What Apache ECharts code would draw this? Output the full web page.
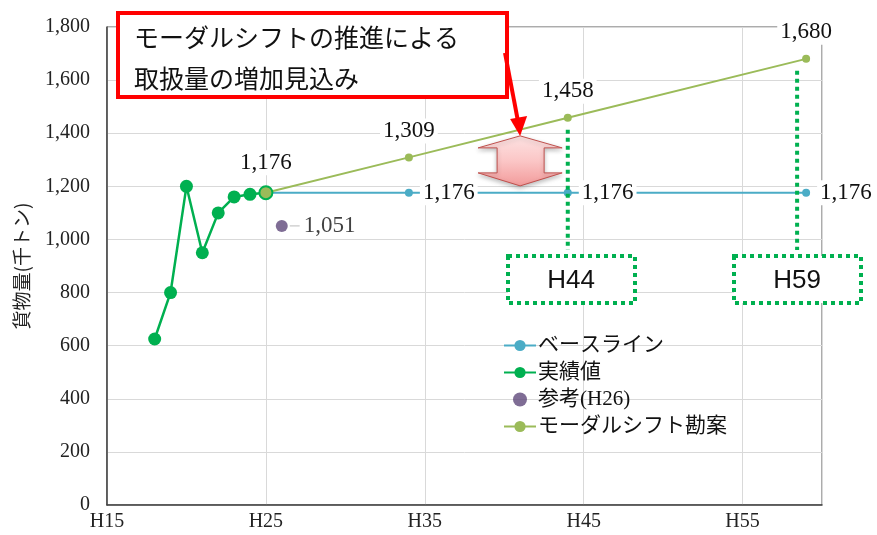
<!DOCTYPE html>
<html>
<head>
<meta charset="utf-8">
<script src="https://cdn.jsdelivr.net/npm/echarts@6/dist/echarts.min.js"></script>
<style>
  html, body { margin: 0; padding: 0; background: #fff; }
  #chart { width: 877px; height: 535px; }
</style>
</head>
<body>
<div id="chart"></div>
<script>
// 実績値
const actualYears = [18, 19, 20, 21, 22, 23, 24, 25]
const actualValues = [625, 800, 1200, 950, 1100, 1160, 1170, 1176]
// 将来推計 (H25, H34, H44, H59)
const forecastYears = [25, 34, 44, 59]
const baselineValues = [1176, 1176, 1176, 1176]
const modalValues = [1176, 1309, 1458, 1680]
// 参考(H26)
const refYears = [26]
const refValues = [1051]
// target year boxes
const targetYears = [44, 59]
const targetLabels = ['H44', 'H59']

const serif = "'Liberation Serif', 'Noto Sans CJK JP', serif"
const gothic = "'Noto Sans CJK JP', sans-serif"
const fmt = v => v.toLocaleString('en-US')

const chart = echarts.init(document.getElementById('chart'))

const labelBase = {
  fontFamily: serif,
  fontSize: 23,
  color: '#111',
  backgroundColor: '#fff',
  padding: [1, 3],
  formatter: p => fmt(p.value[1])
}

const option = {
  animation: false,
  backgroundColor: '#fff',
  grid: {
    left: 107, right: 55, top: 27, bottom: 30,
    outerBoundsMode: 'none',
    containLabel: false,
    show: true, borderColor: '#595959', borderWidth: 1
  },
  legend: {
    orient: 'vertical',
    left: 498,
    top: 330,
    itemWidth: 32,
    itemHeight: 14,
    itemGap: 6,
    textStyle: { fontFamily: serif, fontSize: 21, color: '#111', padding: [0, 0, 0, -3] }
  },
  xAxis: {
    type: 'value',
    min: 15,
    max: 60,
    interval: 10,
    axisLine: { lineStyle: { color: '#404040', width: 1.5 } },
    axisTick: { show: false },
    axisLabel: {
      formatter: v => (v === 60 ? '' : 'H' + v),
      color: '#222',
      fontFamily: serif,
      fontSize: 20,
      margin: 7
    },
    splitLine: { show: true, lineStyle: { color: '#d9d9d9' } }
  },
  yAxis: {
    type: 'value',
    min: 0,
    max: 1800,
    interval: 200,
    name: '貨物量(千トン)',
    nameLocation: 'middle',
    nameRotate: 90,
    nameGap: 76,
    nameTextStyle: { fontFamily: gothic, fontSize: 19, color: '#222' },
    axisLine: { show: true, lineStyle: { color: '#404040', width: 1.5 } },
    axisTick: { show: false },
    axisLabel: { formatter: v => fmt(v), color: '#222', fontFamily: serif, fontSize: 20, margin: 17 },
    splitLine: { lineStyle: { color: '#d9d9d9' } }
  },
  series: [
    {
      name: 'ベースライン',
      type: 'line',
      symbol: 'circle',
      symbolSize: 8,
      itemStyle: { color: '#4bacc6' },
      lineStyle: { color: '#4bacc6', width: 2 },
      label: { show: true, position: 'right', distance: 7, ...labelBase },
      data: forecastYears.map((x, i) => ({ value: [x, baselineValues[i]], label: { show: i > 0 } }))
    },
    {
      name: '実績値',
      type: 'line',
      symbol: 'circle',
      symbolSize: 13,
      itemStyle: { color: '#00b050' },
      lineStyle: { color: '#00b050', width: 2.5 },
      data: actualYears.map((x, i) => [x, actualValues[i]])
    },
    {
      name: '参考(H26)',
      type: 'scatter',
      symbol: 'circle',
      symbolSize: 12,
      itemStyle: { color: '#5f497a' },
      label: {
        show: true,
        position: 'right',
        distance: 2,
        ...labelBase,
        backgroundColor: 'transparent',
        padding: 0,
        formatter: p => '{l|}{v|' + fmt(p.value[1]) + '}',
        rich: {
          l: { width: 10, height: 1, backgroundColor: '#aaa' },
          v: { fontFamily: serif, fontSize: 23, color: '#111', backgroundColor: '#fff', padding: [1, 3, 1, 4] }
        }
      },
      data: refYears.map((x, i) => [x, refValues[i]])
    },
    {
      name: 'モーダルシフト勘案',
      type: 'line',
      symbol: 'circle',
      symbolSize: 8,
      itemStyle: { color: '#9bbb59' },
      lineStyle: { color: '#9bbb59', width: 2 },
      label: { show: true, position: 'top', distance: 10, ...labelBase },
      data: forecastYears.map((x, i) => {
        const d = { value: [x, modalValues[i]] }
        if (i === 0) d.symbolSize = 13
        if (i === 0) d.itemStyle = { color: '#9bbb59', borderColor: '#00b050', borderWidth: 2 }
        return d
      })
    }
  ]
}

chart.setOption(option)

// annotations anchored to the data points
const green = '#00b050'
const graphics = []

graphics.push({
  type: 'rect',
  shape: { x: 118, y: 13, width: 389, height: 84 },
  style: { fill: '#fff', stroke: '#ff0000', lineWidth: 4 },
  z: 100
})
graphics.push({
  type: 'text',
  x: 134,
  y: 17,
  style: { text: 'モーダルシフトの推進による\n取扱量の増加見込み', fontFamily: gothic, fontSize: 25, lineHeight: 41, fill: '#111' },
  z: 101
})

// pink double arrow
const tip = chart.convertToPixel({ gridIndex: 0 }, [41, 1390])
const cx = tip[0]
const ty = tip[1]
graphics.push({
  type: 'polygon',
  shape: {
    points: [
      [cx, ty], [cx + 42, ty + 12], [cx + 24, ty + 12], [cx + 24, ty + 37], [cx + 42, ty + 37],
      [cx, ty + 50], [cx - 42, ty + 37], [cx - 23, ty + 37], [cx - 23, ty + 12], [cx - 42, ty + 12]
    ]
  },
  style: {
    fill: new echarts.graphic.LinearGradient(0, 0, 0, 1, [
      { offset: 0, color: '#fde3e3' },
      { offset: 0.5, color: '#fbc6c6' },
      { offset: 1, color: '#f29a9a' }
    ]),
    stroke: '#c0504d',
    lineWidth: 1,
    shadowBlur: 4,
    shadowColor: 'rgba(0,0,0,0.25)',
    shadowOffsetY: 2
  },
  z: 90
})

// red arrow from the box
graphics.push({
  type: 'line',
  shape: { x1: 505, y1: 53, x2: cx - 2, y2: ty - 14 },
  style: { stroke: '#ff0000', lineWidth: 4 },
  z: 102
})
graphics.push({
  type: 'polygon',
  shape: { points: [[cx - 10, ty - 17], [cx + 7, ty - 20], [cx, ty]] },
  style: { fill: '#ff0000' },
  z: 102
})

// dotted target lines and boxes
targetYears.forEach((yr, i) => {
  const p = chart.convertToPixel({ gridIndex: 0 }, [yr, modalValues[forecastYears.indexOf(yr)]])
  const lx = i === 0 ? p[0] : p[0] - 9
  graphics.push({
    type: 'line',
    shape: { x1: lx, y1: p[1] + 12, x2: lx, y2: 250 },
    style: { stroke: green, lineWidth: 4, lineDash: [4, 4] },
    z: 95
  })
  const bx = i === 0 ? 508 : 734
  graphics.push({
    type: 'rect',
    shape: { x: bx, y: 256, width: 127, height: 47 },
    style: { fill: '#fff', stroke: green, lineWidth: 4, lineDash: [4, 4] },
    z: 96
  })
  graphics.push({
    type: 'text',
    x: bx + 63,
    y: 281,
    style: { text: targetLabels[i], fontFamily: "'Liberation Sans', Arial, sans-serif", fontSize: 26, fill: '#111', align: 'center', verticalAlign: 'middle' },
    z: 97
  })
})

chart.setOption({ graphic: graphics })

window.addEventListener('resize', () => chart.resize())
</script>
</body>
</html>
